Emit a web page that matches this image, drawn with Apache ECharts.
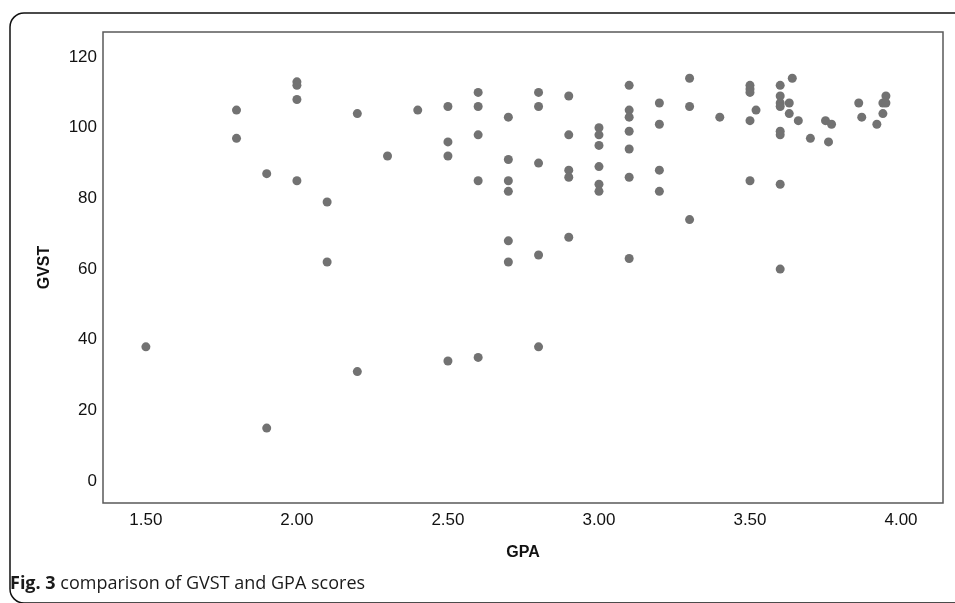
<!DOCTYPE html>
<html>
<head>
<meta charset="utf-8">
<script src="https://cdn.jsdelivr.net/npm/echarts@6/dist/echarts.min.js"></script>
<style>
html,body{margin:0;padding:0;background:#fff;}
#c{width:955px;height:603px;}
</style>
</head>
<body>
<div id="c"></div>
<script>
// GPA (x) and GVST (y) values, paired by index
const gpaValues = [
  1.50,
  1.80, 1.80,
  1.90, 1.90,
  2.00, 2.00, 2.00, 2.00,
  2.10, 2.10,
  2.20, 2.20,
  2.30,
  2.40,
  2.50, 2.50, 2.50, 2.50,
  2.60, 2.60, 2.60, 2.60, 2.60,
  2.70, 2.70, 2.70, 2.70, 2.70, 2.70,
  2.80, 2.80, 2.80, 2.80, 2.80,
  2.90, 2.90, 2.90, 2.90, 2.90,
  3.00, 3.00, 3.00, 3.00, 3.00, 3.00,
  3.10, 3.10, 3.10, 3.10, 3.10, 3.10, 3.10,
  3.20, 3.20, 3.20, 3.20,
  3.30, 3.30, 3.30,
  3.40,
  3.50, 3.50, 3.50, 3.50, 3.50,
  3.52,
  3.60, 3.60, 3.60, 3.60, 3.60, 3.60, 3.60, 3.60,
  3.63, 3.63,
  3.64,
  3.66,
  3.70,
  3.75,
  3.77,
  3.76,
  3.86,
  3.87,
  3.92,
  3.94, 3.94,
  3.95, 3.95
];
const gvstValues = [
  38,
  105, 97,
  87, 15,
  113, 112, 108, 85,
  79, 62,
  104, 31,
  92,
  105,
  106, 96, 92, 34,
  110, 106, 98, 85, 35,
  103, 91, 85, 82, 68, 62,
  110, 106, 90, 64, 38,
  109, 98, 88, 86, 69,
  100, 98, 95, 89, 84, 82,
  112, 105, 103, 99, 94, 86, 63,
  107, 101, 88, 82,
  114, 106, 74,
  103,
  112, 111, 110, 102, 85,
  105,
  112, 109, 107, 106, 99, 98, 84, 60,
  107, 104,
  114,
  102,
  97,
  102,
  101,
  96,
  107,
  103,
  101,
  104, 107,
  109, 107
];
const xTickValues = [1.5, 2.0, 2.5, 3.0, 3.5, 4.0];
const yTickValues = [0, 20, 40, 60, 80, 100, 120];
const xTitle = 'GPA';
const yTitle = 'GVST';
const captionBold = 'Fig. 3';
const captionText = ' comparison of GVST and GPA scores';

const points = gpaValues.map((g, i) => [g, gvstValues[i]]);

const chart = echarts.init(document.getElementById('c'), null, {renderer: 'canvas'});
const labelFont = {fontFamily: 'Liberation Sans, Arial, sans-serif', fontSize: 17, color: '#111'};
const titleFont = {fontFamily: 'Liberation Sans, Arial, sans-serif', fontSize: 16, fontWeight: 'bold', color: '#111'};
chart.setOption({
  animation: false,
  backgroundColor: '#fff',
  grid: {
    left: 103, right: 12, top: 32, bottom: 100,
    show: true, borderColor: '#5a5a5a', borderWidth: 1.5, backgroundColor: 'transparent'
  },
  xAxis: {
    type: 'value',
    min: 1.358, max: 4.139,
    name: xTitle,
    nameLocation: 'middle',
    nameGap: 42,
    nameTextStyle: titleFont,
    axisLine: {show: false},
    axisTick: {show: false},
    splitLine: {show: false},
    axisLabel: Object.assign({
      customValues: xTickValues,
      margin: 9,
      formatter: v => Number(v).toFixed(2)
    }, labelFont)
  },
  yAxis: {
    type: 'value',
    min: -6.2, max: 127.1,
    name: yTitle,
    nameLocation: 'middle',
    nameGap: 50,
    nameRotate: 90,
    nameTextStyle: titleFont,
    axisLine: {show: false},
    axisTick: {show: false},
    splitLine: {show: false},
    axisLabel: Object.assign({
      customValues: yTickValues,
      margin: 6
    }, labelFont)
  },
  series: [{
    type: 'scatter',
    data: points,
    symbol: 'circle',
    symbolSize: 9,
    itemStyle: {color: '#727272', opacity: 1}
  }],
  graphic: [
    {
      type: 'rect',
      shape: {x: 10, y: 13, width: 980, height: 590, r: 14},
      style: {fill: 'none', stroke: '#111', lineWidth: 1.5},
      silent: true
    },
    {
      type: 'text',
      left: 10, top: 575,
      style: {
        text: '{b|' + captionBold + '}{n|' + captionText + '}',
        rich: {
          b: {fontFamily: 'Open Sans', fontSize: 18, fontWeight: 'bold', fill: '#1a1a1a'},
          n: {fontFamily: 'Open Sans', fontSize: 18, fill: '#1a1a1a'}
        }
      }
    }
  ]
});
</script>
</body>
</html>
